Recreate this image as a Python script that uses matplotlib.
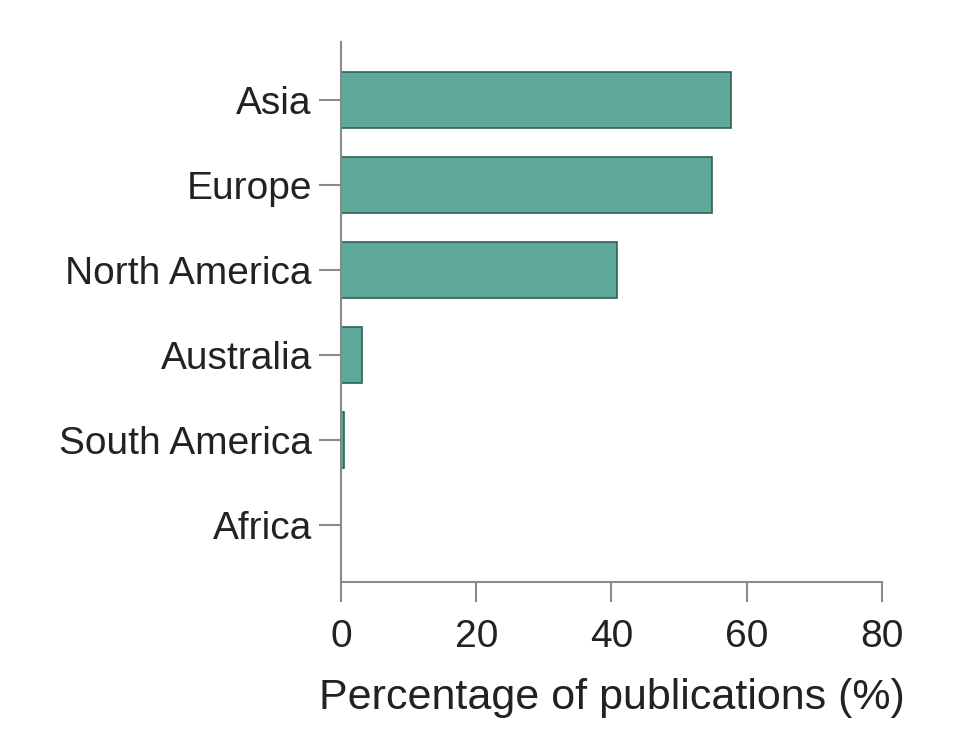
import numpy as np
import matplotlib.pyplot as plt

plt.rcParams['font.family'] = ['Liberation Sans', 'DejaVu Sans']

regions = ['Asia', 'Europe', 'North America', 'Australia', 'South America', 'Africa']
percentages = [57.7, 54.8, 40.8, 3.1, 0.4, 0.0]
xticks = [0, 20, 40, 60, 80]

fig = plt.figure(figsize=(9.7, 7.42), dpi=100)
ax = fig.add_axes([0.3515, 0.2156, 0.5578, 0.7278])

y = np.arange(len(regions))
ax.barh(y, percentages, height=0.66, color='#5ea99a', edgecolor='#2f6259', linewidth=1.2)

ax.set_ylim(5.67, -0.68)
ax.set_xlim(0, 80)
ax.set_yticks(y)
ax.set_yticklabels(regions)
ax.set_xticks(xticks)

for side in ['top', 'right']:
    ax.spines[side].set_visible(False)
for side in ['left', 'bottom']:
    ax.spines[side].set_color('#8a8a8a')
    ax.spines[side].set_linewidth(1.5)

ax.tick_params(axis='y', length=16, width=1.5, color='#8a8a8a', labelsize=28, labelcolor='#222222', pad=5)
ax.tick_params(axis='x', length=14.5, width=1.5, color='#8a8a8a', labelsize=28, labelcolor='#222222', pad=12)
ax.set_xlabel('Percentage of publications (%)', fontsize=31, color='#222222', labelpad=17)

fig.savefig('out.png', dpi=100)
